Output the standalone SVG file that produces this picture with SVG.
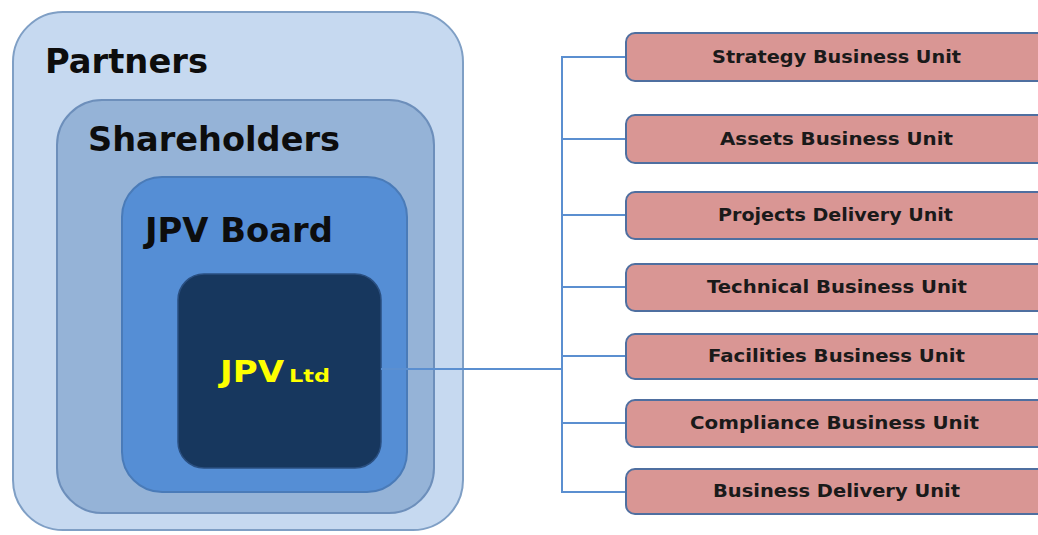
<svg xmlns="http://www.w3.org/2000/svg" width="1038" height="535" viewBox="0 0 1038 535">
<style>
.big{font-family:"DejaVu Sans",Verdana,sans-serif;font-weight:bold;fill:#0d0d0d;font-size:33px}
.unit rect{fill:#d99694;stroke:#4f6fa0;stroke-width:2}
.unit text{font-family:"DejaVu Sans",Verdana,sans-serif;font-weight:bold;font-size:17.5px;fill:#1a1a1a;text-anchor:start}
.conn{stroke:#5b8fd0;stroke-width:2;fill:none}
</style>
<rect width="1038" height="535" fill="#ffffff"/>
<g id="partners">
<rect x="13" y="12" width="450" height="518" rx="50" fill="#c6d9f0" stroke="#7f9fc5" stroke-width="2"/>
<text class="big" x="45" y="73" textLength="163" lengthAdjust="spacingAndGlyphs">Partners</text>
</g>
<g id="shareholders">
<rect x="57" y="100" width="377" height="413" rx="45" fill="#95b3d7" stroke="#6d8fbb" stroke-width="2"/>
<text class="big" x="88" y="151" textLength="252" lengthAdjust="spacingAndGlyphs">Shareholders</text>
</g>
<g id="jpv-board">
<rect x="122" y="177" width="285" height="315" rx="40" fill="#558ed5" stroke="#4a7bb8" stroke-width="2"/>
<text class="big" x="145" y="242" textLength="188" lengthAdjust="spacingAndGlyphs">JPV Board</text>
</g>
<g id="jpv-ltd">
<rect x="178" y="274" width="203" height="194" rx="26" fill="#17375e" stroke="#2a4f80" stroke-width="1.5"/>
<text x="220" y="382" font-family="DejaVu Sans,Verdana,sans-serif" font-weight="bold" font-size="30" fill="#ffff00" textLength="64" lengthAdjust="spacingAndGlyphs">JPV</text>
<text x="289" y="382" font-family="DejaVu Sans,Verdana,sans-serif" font-weight="bold" font-size="18" fill="#ffff00" textLength="41" lengthAdjust="spacingAndGlyphs">Ltd</text>
</g>
<g id="connectors" class="conn">
<line x1="381" y1="369" x2="562" y2="369"/>
<line x1="562" y1="56" x2="562" y2="493"/>
<line x1="561" y1="57" x2="626" y2="57"/>
<line x1="561" y1="139" x2="626" y2="139"/>
<line x1="561" y1="215" x2="626" y2="215"/>
<line x1="561" y1="287" x2="626" y2="287"/>
<line x1="561" y1="356" x2="626" y2="356"/>
<line x1="561" y1="423" x2="626" y2="423"/>
<line x1="561" y1="492" x2="626" y2="492"/>
</g>
<g id="unit-strategy" class="unit">
<rect x="626" y="33" width="440" height="48" rx="9"/>
<text x="712" y="63" textLength="249" lengthAdjust="spacingAndGlyphs">Strategy  Business Unit</text>
</g>
<g id="unit-assets" class="unit">
<rect x="626" y="115" width="440" height="48" rx="9"/>
<text x="720" y="145" textLength="233" lengthAdjust="spacingAndGlyphs">Assets  Business Unit</text>
</g>
<g id="unit-projects" class="unit">
<rect x="626" y="192" width="440" height="47" rx="9"/>
<text x="718" y="221" textLength="235" lengthAdjust="spacingAndGlyphs">Projects Delivery Unit</text>
</g>
<g id="unit-technical" class="unit">
<rect x="626" y="264" width="440" height="47" rx="9"/>
<text x="707" y="293" textLength="260" lengthAdjust="spacingAndGlyphs">Technical  Business Unit</text>
</g>
<g id="unit-facilities" class="unit">
<rect x="626" y="334" width="440" height="45" rx="9"/>
<text x="708" y="362" textLength="257" lengthAdjust="spacingAndGlyphs">Facilities Business Unit</text>
</g>
<g id="unit-compliance" class="unit">
<rect x="626" y="400" width="440" height="47" rx="9"/>
<text x="690" y="429" textLength="289" lengthAdjust="spacingAndGlyphs">Compliance Business Unit</text>
</g>
<g id="unit-business-delivery" class="unit">
<rect x="626" y="469" width="440" height="45" rx="9"/>
<text x="713" y="497" textLength="247" lengthAdjust="spacingAndGlyphs">Business Delivery Unit</text>
</g>
</svg>
